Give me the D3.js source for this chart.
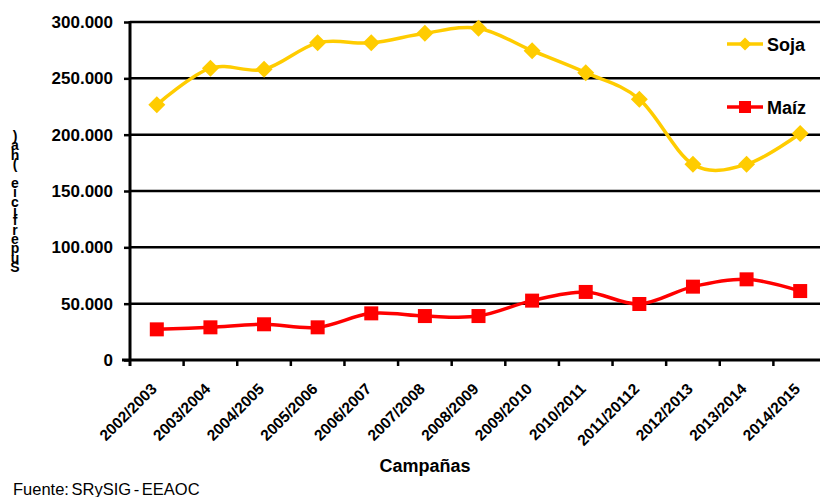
<!DOCTYPE html>
<html>
<head>
<meta charset="utf-8">
<script src="https://cdn.jsdelivr.net/npm/d3@7"></script>
<style>
  html, body { margin: 0; padding: 0; background: #fff; }
  svg { display: block; font-family: "Liberation Sans", Arial, sans-serif; }
</style>
</head>
<body>
<svg id="chart" width="820" height="497"></svg>
<script>
const campaigns = ["2002/2003","2003/2004","2004/2005","2005/2006","2006/2007","2007/2008","2008/2009","2009/2010","2010/2011","2011/20112","2012/2013","2013/2014","2014/2015"];
const soja = [226500, 259000, 258000, 281500, 281500, 290000, 294500, 274500, 255000, 231500, 173700, 173700, 201000];
const maiz = [27200, 29000, 31700, 29000, 41400, 39000, 39000, 52700, 60400, 49700, 65100, 71600, 61200];
const yTicks = [0, 50000, 100000, 150000, 200000, 250000, 300000];
const yLabel = "Superficie (ha)";
const xTitle = "Campañas";
const source = "Fuente: SRySIG - EEAOC";
const seriesNames = ["Soja", "Maíz"];

const svg = d3.select("#chart");
const W = 820, H = 497;
const x = d3.scaleBand().domain(campaigns).range([130, 827]).padding(0);
const y = d3.scaleLinear().domain([0, 300000]).range([360, 22]);
const fmt = d3.formatLocale({decimal: ",", thousands: ".", grouping: [3], currency: ["", ""]}).format(",.0f");
const cx = d => x(d) + x.bandwidth() / 2;

// gridlines
svg.append("g").selectAll("line").data(yTicks.filter(t => t > 0)).join("line")
  .attr("x1", 130).attr("x2", W).attr("y1", d => y(d)).attr("y2", d => y(d))
  .attr("stroke", "#000").attr("stroke-width", 2.5);

// y axis
const yAxis = svg.append("g").attr("transform", "translate(130,0)")
  .call(d3.axisLeft(y).tickValues(yTicks).tickFormat(fmt).tickSize(6).tickPadding(11));
yAxis.select(".domain").remove();
yAxis.selectAll(".tick line").attr("stroke", "#000").attr("stroke-width", 2.5);
yAxis.selectAll(".tick text").attr("font-size", 17).attr("font-weight", "bold")
  .attr("fill", "#000").attr("font-family", "'Liberation Sans', Arial, sans-serif");
svg.append("line").attr("x1", 130).attr("x2", 130).attr("y1", 21).attr("y2", 366)
  .attr("stroke", "#000").attr("stroke-width", 3);

// x axis
svg.append("line").attr("x1", 122).attr("x2", W).attr("y1", y(0)).attr("y2", y(0))
  .attr("stroke", "#000").attr("stroke-width", 3);
svg.append("g").selectAll("line").data(campaigns).join("line")
  .attr("x1", d => x(d) + x.bandwidth()).attr("x2", d => x(d) + x.bandwidth())
  .attr("y1", y(0)).attr("y2", y(0) + 6)
  .attr("stroke", "#000").attr("stroke-width", 2.5);
svg.append("g").selectAll("text").data(campaigns).join("text")
  .attr("transform", d => `translate(${cx(d) + 1},${y(0) + 30}) rotate(-45)`)
  .attr("text-anchor", "end").attr("font-size", 15.5).attr("font-weight", "bold")
  .text(d => d);

// lines
const line = d3.line().x((d, i) => cx(campaigns[i])).y(d => y(d)).curve(d3.curveCardinal.tension(0));
svg.append("path").datum(maiz).attr("d", line).attr("fill", "none")
  .attr("stroke", "#FF0000").attr("stroke-width", 3.5);
svg.append("path").datum(soja).attr("d", line).attr("fill", "none")
  .attr("stroke", "#FFCC00").attr("stroke-width", 3.5);

const diamond = s => `M0,${-s}L${s},0L0,${s}L${-s},0Z`;
svg.append("g").selectAll("rect").data(maiz).join("rect")
  .attr("x", (d, i) => cx(campaigns[i]) - 7).attr("y", d => y(d) - 7)
  .attr("width", 14).attr("height", 14).attr("fill", "#FF0000");
svg.append("g").selectAll("path").data(soja).join("path")
  .attr("transform", (d, i) => `translate(${cx(campaigns[i])},${y(d)})`)
  .attr("d", diamond(8.5)).attr("fill", "#FFCC00");

// legend
const lg = svg.append("g");
lg.append("line").attr("x1", 727).attr("x2", 763).attr("y1", 44).attr("y2", 44)
  .attr("stroke", "#FFCC00").attr("stroke-width", 3.5);
lg.append("path").attr("transform", "translate(745,44)").attr("d", diamond(6.5)).attr("fill", "#FFCC00");
lg.append("text").attr("x", 767).attr("y", 51).attr("font-size", 18).attr("font-weight", "bold").text(seriesNames[0]);
lg.append("line").attr("x1", 727).attr("x2", 763).attr("y1", 107).attr("y2", 107)
  .attr("stroke", "#FF0000").attr("stroke-width", 3.5);
lg.append("rect").attr("x", 739).attr("y", 101).attr("width", 12).attr("height", 12).attr("fill", "#FF0000");
lg.append("text").attr("x", 767).attr("y", 114).attr("font-size", 18).attr("font-weight", "bold").text(seriesNames[1]);

// y label: upright characters stacked, read bottom-to-top as in the reference
svg.append("text")
  .attr("x", 15).attr("y", 128)
  .style("writing-mode", "vertical-rl").style("text-orientation", "upright")
  .attr("font-size", 14).attr("font-weight", "bold")
  .attr("textLength", 147).attr("lengthAdjust", "spacing")
  .text(yLabel.split("").reverse().join(""));

// titles
svg.append("text").attr("x", 425).attr("y", 472).attr("text-anchor", "middle")
  .attr("font-size", 18).attr("font-weight", "bold").text(xTitle);
svg.append("text").attr("x", 13).attr("y", 495).attr("font-size", 16.5).attr("word-spacing", -2).text(source);
</script>
</body>
</html>
